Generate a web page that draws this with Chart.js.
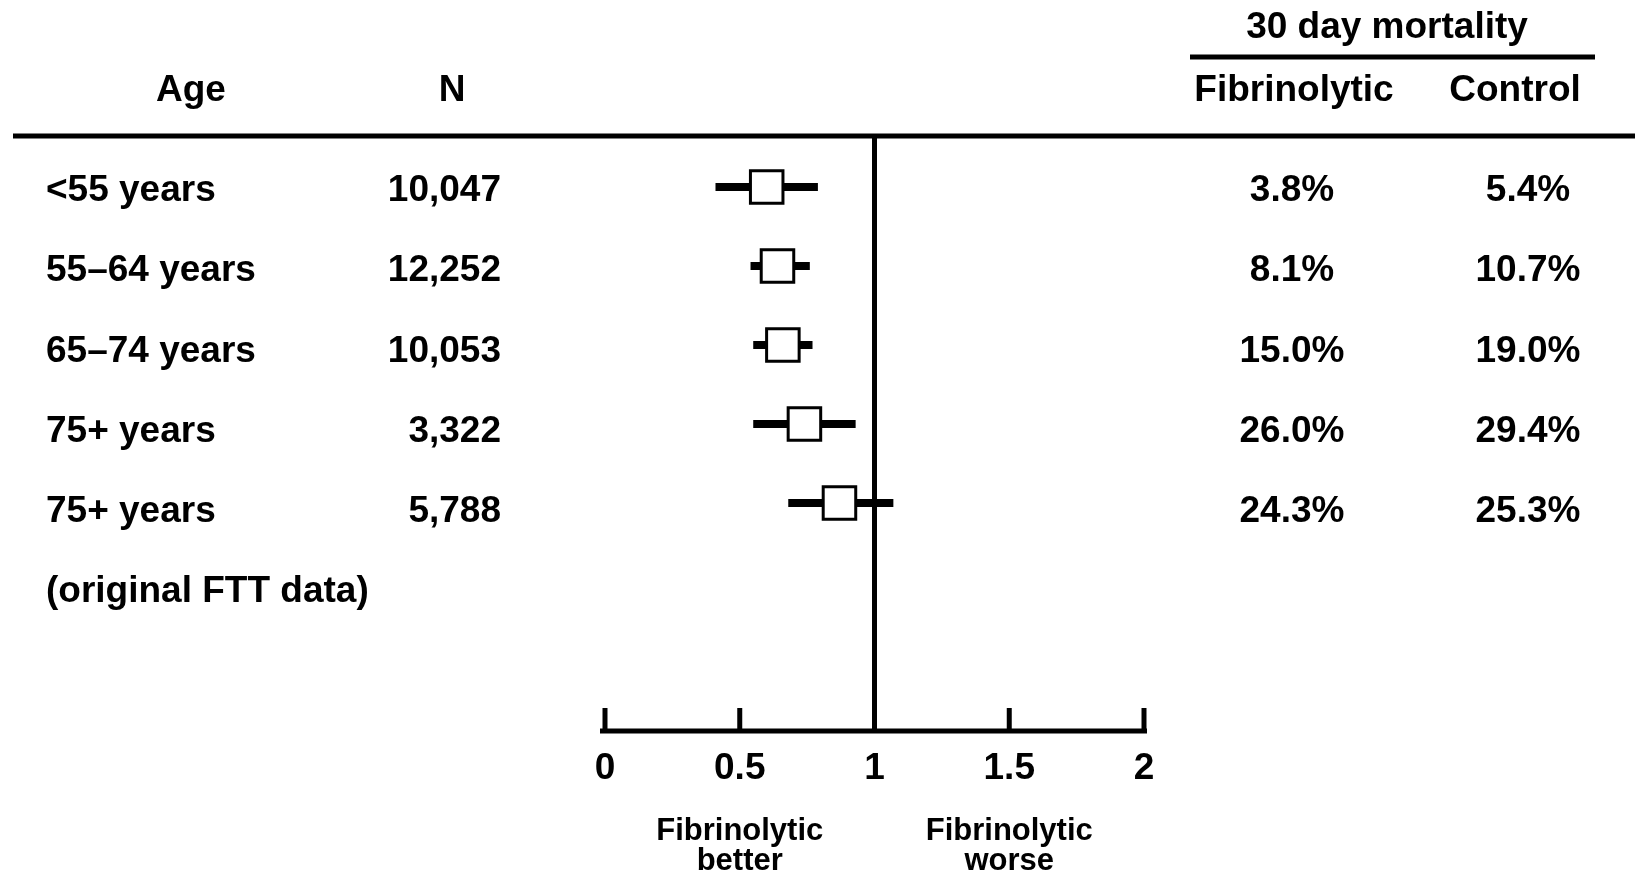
<!DOCTYPE html>
<html>
<head>
<meta charset="utf-8">
<script src="https://cdn.jsdelivr.net/npm/chart.js@4.4.1/dist/chart.umd.min.js"></script>
<style>
  body { margin: 0; background: #fff; }
  canvas { display: block; }
</style>
</head>
<body>
<canvas id="forest" width="1635" height="876"></canvas>
<script>
const ageGroups = ["<55 years", "55\u201364 years", "65\u201374 years", "75+ years", "75+ years"];
const subLabel = "(original FTT data)";
const patients = ["10,047", "12,252", "10,053", "3,322", "5,788"];
const fibrinolytic = ["3.8%", "8.1%", "15.0%", "26.0%", "24.3%"];
const control = ["5.4%", "10.7%", "19.0%", "29.4%", "25.3%"];

// odds ratio and CI
const estimates = [0.60, 0.64, 0.66, 0.74, 0.87];
const ciLow = [0.41, 0.54, 0.55, 0.55, 0.68];
const ciHigh = [0.79, 0.76, 0.77, 0.93, 1.07];

const tickValues = [0, 0.5, 1, 1.5, 2];
const tickLabels = ["0", "0.5", "1", "1.5", "2"];

const FONT = '"Liberation Sans", Arial, sans-serif';

const drawText = (ctx, txt, x, y, align, size) => {
  ctx.font = `bold ${size}px ${FONT}`;
  ctx.textAlign = align;
  ctx.textBaseline = "middle";
  ctx.fillStyle = "#000";
  ctx.fillText(txt, x, y);
};

const hline = (ctx, x1, x2, y, w) => {
  ctx.beginPath();
  ctx.lineWidth = w;
  ctx.strokeStyle = "#000";
  ctx.moveTo(x1, y);
  ctx.lineTo(x2, y);
  ctx.stroke();
};

const tablePlugin = {
  id: "table",
  beforeDatasetsDraw(chart) {
    const { ctx, chartArea, scales } = chart;
    const x1 = scales.x.getPixelForValue(1);
    ctx.save();
    ctx.beginPath();
    ctx.lineWidth = 5;
    ctx.strokeStyle = "#000";
    ctx.moveTo(x1, chartArea.top);
    ctx.lineTo(x1, chartArea.bottom);
    ctx.stroke();
    ctx.restore();
  },
  afterDraw(chart) {
    const { ctx, chartArea, scales } = chart;
    const x = scales.x, y = scales.y;
    ctx.save();

    // header
    drawText(ctx, "Age", 191, 91, "center", 37);
    drawText(ctx, "N", 452, 91, "center", 37);
    drawText(ctx, "30 day mortality", 1387, 28, "center", 37);
    hline(ctx, 1190, 1595, 57, 5);
    drawText(ctx, "Fibrinolytic", 1294, 91, "center", 37);
    drawText(ctx, "Control", 1515, 91, "center", 37);
    hline(ctx, 13, 1635, chartArea.top, 5);

    // rows
    ageGroups.forEach((lab, i) => {
      const ty = y.getPixelForValue(i) + 4 + i * 1.2;
      drawText(ctx, lab, 46, ty, "left", 37);
      drawText(ctx, patients[i], 501, ty, "right", 37);
      drawText(ctx, fibrinolytic[i], 1292, ty, "center", 37);
      drawText(ctx, control[i], 1528, ty, "center", 37);
    });
    drawText(ctx, subLabel, 46, y.getPixelForValue(5) + 10, "left", 37);

    // x axis with ticks pointing up
    const yb = chartArea.bottom;
    hline(ctx, x.getPixelForValue(0) - 5, x.getPixelForValue(2) + 3, yb, 5);
    tickValues.forEach((v, i) => {
      const px = x.getPixelForValue(v);
      ctx.beginPath();
      ctx.lineWidth = 5;
      ctx.moveTo(px, yb);
      ctx.lineTo(px, yb - 23);
      ctx.stroke();
      drawText(ctx, tickLabels[i], px, yb + 38, "center", 37);
    });

    drawText(ctx, "Fibrinolytic", x.getPixelForValue(0.5), yb + 100, "center", 31);
    drawText(ctx, "better", x.getPixelForValue(0.5), yb + 130, "center", 31);
    drawText(ctx, "Fibrinolytic", x.getPixelForValue(1.5), yb + 100, "center", 31);
    drawText(ctx, "worse", x.getPixelForValue(1.5), yb + 130, "center", 31);
    ctx.restore();
  }
};

const whiskers = estimates.map((_, i) => ({
  type: "line",
  data: [{ x: ciLow[i], y: i }, { x: ciHigh[i], y: i }],
  borderColor: "#000",
  borderWidth: 8,
  pointRadius: 0,
  order: 1
}));

new Chart(document.getElementById("forest"), {
  type: "scatter",
  data: {
    datasets: [
      {
        data: estimates.map((v, i) => ({ x: v, y: i })),
        pointStyle: "rect",
        pointRadius: 23,
        backgroundColor: "#fff",
        borderColor: "#000",
        borderWidth: 3,
        order: 0
      },
      ...whiskers
    ]
  },
  options: {
    responsive: false,
    animation: false,
    layout: { padding: { left: 605, right: 491, top: 136, bottom: 145 } },
    plugins: { legend: { display: false }, tooltip: { enabled: false } },
    scales: {
      x: { type: "linear", min: 0, max: 2, display: false },
      y: { type: "linear", min: -0.646, max: 6.886, reverse: true, display: false }
    }
  },
  plugins: [tablePlugin]
});
</script>
</body>
</html>
